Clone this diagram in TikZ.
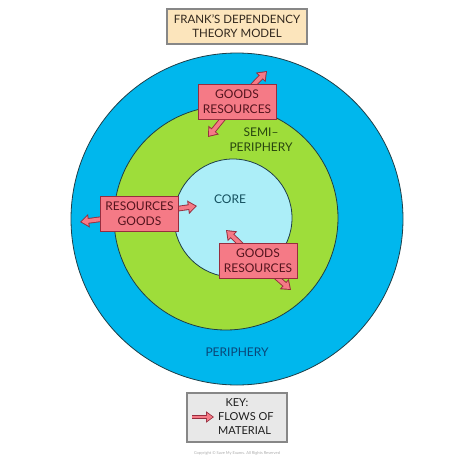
\documentclass[tikz,border=0pt]{standalone}
\usepackage{fontspec}
\setmainfont{Lato}
\usepackage{tikz}
\usetikzlibrary{arrows.meta}
\definecolor{periblue}{RGB}{0,183,237}
\definecolor{semigreen}{RGB}{158,221,58}
\definecolor{corecyan}{RGB}{172,238,248}
\definecolor{ringline}{RGB}{30,62,72}
\definecolor{flowpink}{RGB}{245,122,134}
\definecolor{flowedge}{RGB}{150,45,62}
\definecolor{flowtext}{RGB}{85,20,30}
\definecolor{titlefill}{RGB}{252,229,188}
\definecolor{keyfill}{RGB}{232,232,232}
\definecolor{boxgrey}{RGB}{135,135,135}
\tikzset{
    every node/.style={inner sep=0pt, align=center,
    	font=\fontsize{12}{15}\selectfont}
}
\tikzset{
    flowbox/.style={rectangle, fill=flowpink, draw=flowedge, line width=.8pt,
    	minimum width=78pt, minimum height=35pt, text=flowtext},
    greybox/.style={rectangle, draw=boxgrey, line width=1.2pt},
    ring/.style={draw=ringline, line width=.8pt}
}
\tikzset{
    flowback/.style={line width=5.6pt, draw=flowedge, -{Triangle[length=9pt,width=13pt]}},
    flowfront/.style={line width=3.8pt, draw=flowpink, shorten >=1.5pt,
    	-{Triangle[length=6.6pt,width=9.4pt]}}
}
\pgfdeclarelayer{front}
\pgfsetlayers{main,front}

\begin{document}
\begin{tikzpicture}[x=1pt, y=-1pt]
  \useasboundingbox (0,0) rectangle (474,461);

  \filldraw [ring, fill=periblue] (237,219) circle (166pt);
  \filldraw [ring, fill=semigreen] (226,218) circle (112pt);
  \filldraw [ring, fill=corecyan] (233,218) circle (59pt);

  \node (title) [greybox, fill=titlefill, minimum width=140pt, minimum height=35pt,
  	text={rgb,255:red,50;green,40;blue,30}, font=\fontsize{11.5}{14}\selectfont]
  	at (237,26.5) {FRANK'S DEPENDENCY\\THEORY MODEL};

  \node (core) [text={rgb,255:red,20;green,80;blue,95}] at (230,199) {CORE};
  \node (semi) [text={rgb,255:red,40;green,70;blue,15}] at (261,139.5) {SEMI--\\PERIPHERY};
  \node (peri) [text={rgb,255:red,10;green,70;blue,120}] at (237,352) {PERIPHERY};

  \begin{pgfonlayer}{front}
  \node (topbox) [flowbox] at (237,101.5) {GOODS\\RESOURCES};
  \node (leftbox) [flowbox] at (139.5,214) {RESOURCES\\GOODS};
  \node (rightbox) [flowbox] at (258,261) {GOODS\\RESOURCES};
  \end{pgfonlayer}

  \coordinate (topout) at (267,71);
  \coordinate (topin) at (208,137);
  \coordinate (leftin) at (197,206);
  \coordinate (leftout) at (80,222);
  \coordinate (rightin) at (226,230);
  \coordinate (rightout) at (291,290);

  \foreach \src/\dst in {topbox/topout, topbox/topin, leftbox/leftin,
  	leftbox/leftout, rightbox/rightin, rightbox/rightout}
  {
    \draw [flowback] (\src.center) -- (\dst);
    \draw [flowfront] (\src.center) -- (\dst);
  }

  \node (key) [greybox, fill=keyfill, minimum width=100pt, minimum height=49pt]
  	at (237,417.5) {};
  \node (keyhead) [font=\fontsize{11}{14}\selectfont, text={rgb,255:red,30;green,30;blue,30}]
  	at (237,403) {KEY:};
  \node (keytext) [anchor=west, align=left, font=\fontsize{11}{14}\selectfont,
  	text={rgb,255:red,30;green,30;blue,30}] at (218,424) {FLOWS OF\\MATERIAL};
  \coordinate (keyfrom) at (192,417);
  \coordinate (keyto) at (214,417);
  \draw [line width=4.4pt, draw=flowedge, -{Triangle[length=8pt,width=11pt]}] (keyfrom) -- (keyto);
  \draw [line width=2.8pt, draw=flowpink, shorten >=1.3pt,
  	-{Triangle[length=5.8pt,width=7.8pt]}] (keyfrom) -- (keyto);

  \node (copy) [font=\fontsize{4}{5}\selectfont, text={rgb,255:red,170;green,170;blue,170}]
  	at (237,453) {Copyright © Save My Exams. All Rights Reserved};
\end{tikzpicture}
\end{document}
